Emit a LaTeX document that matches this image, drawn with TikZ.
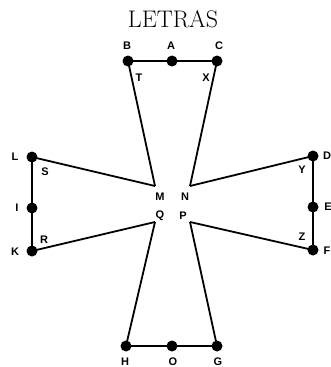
\documentclass[tikz,border=0pt]{standalone}
\usepackage{fontspec}
\newfontfamily\lblfont{Liberation Sans}
\begin{document}
\begin{tikzpicture}[x=1pt,y=-1pt,
  dot/.style={circle,fill=black,inner sep=0pt,minimum size=11pt},
  lbl/.style={font=\lblfont\bfseries\fontsize{11}{12}\selectfont,inner sep=0pt},
  edge/.style={line width=1.8pt,line join=round}]
\useasboundingbox (0,0) rectangle (331,367);
\node[font=\fontsize{24}{26}\selectfont,inner sep=0pt] (title) at (173,19) {LETRAS};
% top
\node[dot] (B) at (128,61) {};
\node[dot] (A) at (172,61) {};
\node[dot] (C) at (217,61) {};
% left
\node[dot] (L) at (32,157) {};
\node[dot] (I) at (32,208) {};
\node[dot] (K) at (32,251) {};
% right
\node[dot] (D) at (313,156) {};
\node[dot] (E) at (313,207) {};
\node[dot] (F) at (313,250) {};
% bottom
\node[dot] (H) at (126,346) {};
\node[dot] (O) at (172,346) {};
\node[dot] (G) at (217,346) {};
% inner vertices
\coordinate (M) at (155,186);
\coordinate (N) at (190,186);
\coordinate (Q) at (155,222);
\coordinate (P) at (190,222);
% edges
\draw[edge] (B.center) -- (C.center);
\draw[edge] (L.center) -- (K.center);
\draw[edge] (D.center) -- (F.center);
\draw[edge] (H.center) -- (G.center);
\draw[edge] (B.center) -- (M);
\draw[edge] (C.center) -- (N);
\draw[edge] (L.center) -- (M);
\draw[edge] (K.center) -- (Q);
\draw[edge] (D.center) -- (N);
\draw[edge] (F.center) -- (P);
\draw[edge] (H.center) -- (Q);
\draw[edge] (G.center) -- (P);
% letters
\node[lbl] (lB) at (127,46) {B};
\node[lbl] (lA) at (171,46) {A};
\node[lbl] (lC) at (219,46) {C};
\node[lbl] (lT) at (139,78) {T};
\node[lbl] (lX) at (206,78) {X};
\node[lbl] (lL) at (15,157) {L};
\node[lbl] (lI) at (17,208) {I};
\node[lbl] (lK) at (15,252) {K};
\node[lbl] (lS) at (45,172) {S};
\node[lbl] (lR) at (44,240) {R};
\node[lbl] (lM) at (160,197) {M};
\node[lbl] (lN) at (185,197) {N};
\node[lbl] (lQ) at (160,216) {Q};
\node[lbl] (lP) at (183,216) {P};
\node[lbl] (lD) at (327,156) {D};
\node[lbl] (lE) at (328,207) {E};
\node[lbl] (lF) at (327,251) {F};
\node[lbl] (lY) at (302,170) {Y};
\node[lbl] (lZ) at (302,237) {Z};
\node[lbl] (lH) at (125,362) {H};
\node[lbl] (lO) at (173,362) {O};
\node[lbl] (lG) at (218,362) {G};
\end{tikzpicture}
\end{document}
